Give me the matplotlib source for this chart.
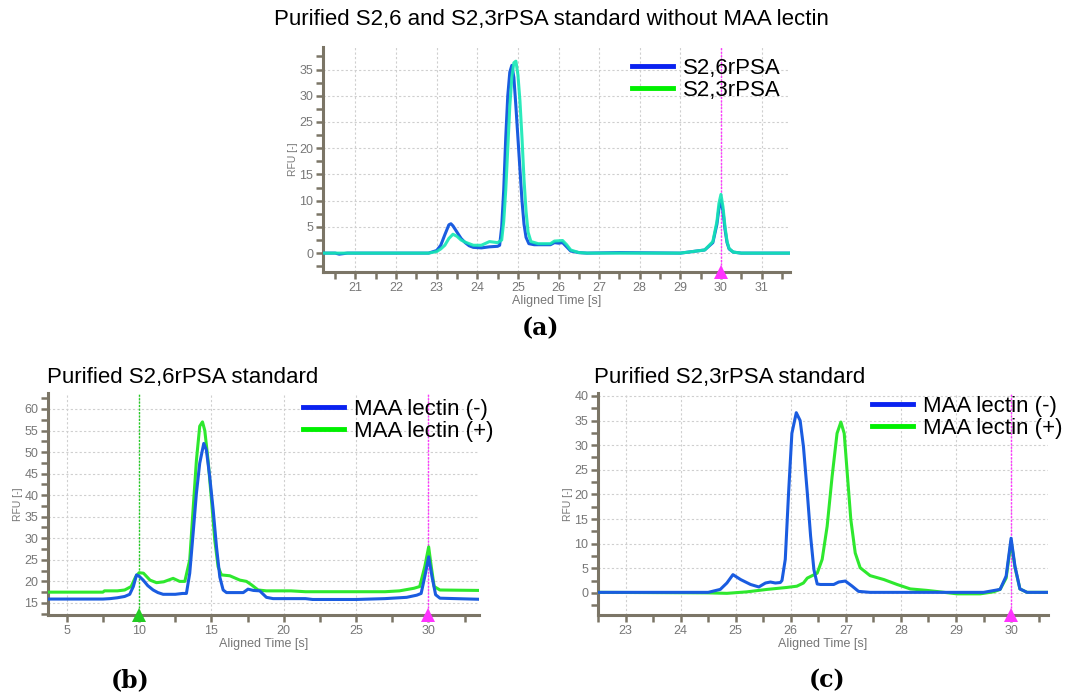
import matplotlib
matplotlib.use("Agg")
import matplotlib.pyplot as plt
from matplotlib.ticker import MultipleLocator
import matplotlib.transforms as mtransforms

# ---- panel (a): purified standards without MAA lectin ----
a_s26_x = [20.2, 20.5, 20.6, 20.8, 22.8, 23.0, 23.1, 23.2, 23.3, 23.35, 23.4, 23.5, 23.6, 23.7,
           23.8, 23.9, 24.1, 24.3, 24.5, 24.55, 24.6, 24.65, 24.7, 24.75, 24.8, 24.85, 24.9,
           24.95, 25.0, 25.05, 25.1, 25.15, 25.2, 25.27, 25.4, 25.6, 25.8, 25.9, 26.0, 26.1,
           26.2, 26.3, 26.5, 26.7, 27.5, 29.0, 29.3, 29.6, 29.8, 29.9, 29.95, 30.0, 30.05,
           30.1, 30.15, 30.2, 30.3, 30.5, 31.7]
a_s26_y = [0.0, 0.0, -0.2, 0.0, 0.0, 0.5, 1.5, 3.5, 5.4, 5.6, 5.2, 4.0, 2.8, 2.0,
           1.4, 1.1, 1.0, 1.2, 1.3, 1.5, 5.0, 12.0, 22.0, 30.0, 34.5, 35.8, 33.5,
           28.0, 22.0, 16.0, 10.0, 5.5, 3.0, 1.8, 1.6, 1.6, 1.6, 2.0, 1.9, 2.0,
           1.2, 0.4, 0.1, 0.0, 0.1, 0.0, 0.3, 0.6, 2.0, 5.5, 8.5, 10.0, 8.0,
           4.5, 2.0, 0.8, 0.2, 0.0, 0.0]
a_s23_x = [20.2, 22.8, 23.0, 23.1, 23.2, 23.3, 23.4, 23.5, 23.6, 23.7, 23.8, 23.9, 24.1, 24.3,
           24.5, 24.6, 24.65, 24.7, 24.75, 24.8, 24.85, 24.9, 24.95, 25.0, 25.05, 25.1, 25.15,
           25.2, 25.25, 25.32, 25.5, 25.8, 25.9, 26.1, 26.2, 26.3, 26.5, 26.7, 29.0, 29.3,
           29.6, 29.8, 29.9, 29.95, 30.0, 30.05, 30.1, 30.15, 30.2, 30.3, 30.5, 31.7]
a_s23_y = [0.0, 0.0, 0.3, 0.8, 1.5, 2.8, 3.6, 3.2, 2.5, 2.1, 1.8, 1.5, 1.5, 2.2,
           2.0, 2.5, 6.0, 12.0, 20.0, 28.0, 33.5, 36.3, 36.6, 34.0, 29.0, 22.0, 14.0,
           8.0, 4.0, 2.2, 1.8, 1.8, 2.3, 2.4, 1.6, 0.6, 0.1, 0.0, 0.0, 0.3,
           0.6, 2.2, 6.0, 9.5, 11.2, 8.8, 5.0, 2.2, 0.9, 0.2, 0.0, 0.0]

# ---- panel (b): purified S2,6rPSA standard ----
b_minus_x = [3.7, 7.5, 8.0, 8.5, 9.0, 9.35, 9.6, 9.82, 10.0, 10.28, 10.6, 10.97, 11.3, 11.66,
             12.5, 13.0, 13.27, 13.5, 13.73, 13.96, 14.19, 14.47, 14.65, 14.88, 15.12, 15.35,
             15.58, 15.81, 16.04, 16.5, 17.2, 17.53, 17.9, 18.34, 18.8, 19.26, 20.0, 21.5,
             22.0, 25.0, 27.0, 28.5, 29.2, 29.5, 29.8, 30.02, 30.25, 30.5, 30.8, 33.5]
b_minus_y = [15.9, 15.9, 16.0, 16.2, 16.5, 17.0, 18.8, 21.5, 21.2, 20.3, 19.0, 18.0, 17.4, 17.0,
             17.0, 17.2, 17.2, 21.9, 31.0, 40.4, 47.4, 52.0, 50.5, 44.3, 36.6, 28.0,
             21.0, 18.0, 17.4, 17.4, 17.4, 18.2, 17.9, 17.8, 16.3, 16.0, 16.0, 16.0,
             15.8, 15.8, 16.0, 16.3, 16.8, 17.2, 21.9, 25.7, 21.1, 16.9, 16.1, 15.85]
b_plus_x = [3.7, 7.5, 7.6, 8.5, 9.0, 9.45, 9.75, 10.0, 10.3, 10.75, 11.2, 11.7, 12.35, 12.8,
            13.16, 13.5, 13.73, 13.96, 14.19, 14.38, 14.54, 14.77, 15.0, 15.23, 15.46, 15.69,
            16.27, 16.96, 17.42, 17.77, 18.23, 18.8, 19.5, 20.5, 21.5, 27.0, 28.0, 29.0,
            29.4, 29.75, 30.02, 30.2, 30.4, 30.8, 33.5]
b_plus_y = [17.5, 17.5, 17.8, 17.8, 18.0, 18.8, 21.0, 22.0, 21.9, 20.3, 19.7, 19.9, 20.7, 20.0,
            20.0, 25.0, 36.6, 48.0, 56.0, 57.0, 55.0, 48.0, 39.0, 29.6, 23.4, 21.5,
            21.3, 20.3, 20.0, 19.2, 18.0, 17.8, 17.8, 17.8, 17.6, 17.6, 17.8, 18.4,
            18.8, 23.4, 28.0, 23.4, 18.8, 18.0, 17.9]

# ---- panel (c): purified S2,3rPSA standard ----
c_minus_x = [22.5, 24.5, 24.72, 24.84, 24.95, 25.09, 25.27, 25.42, 25.54, 25.63, 25.72, 25.81,
             25.84, 25.9, 25.96, 26.02, 26.1, 26.17, 26.23, 26.3, 26.36, 26.42, 26.48, 26.54,
             26.78, 26.87, 26.99, 27.11, 27.23, 27.44, 29.5, 29.8, 29.91, 30.0, 30.07, 30.16,
             30.29, 30.67]
c_minus_y = [0.1, 0.1, 0.7, 2.0, 3.7, 2.7, 1.7, 1.2, 2.0, 2.2, 2.0, 2.1,
             2.5, 6.8, 20.3, 32.4, 36.6, 35.0, 29.7, 20.3, 11.5, 4.7, 1.8, 1.7,
             1.7, 2.2, 2.4, 1.4, 0.3, 0.1, 0.1, 0.7, 3.4, 11.1, 5.4, 0.8,
             0.1, 0.1]
c_plus_x = [22.5, 24.48, 24.84, 25.2, 25.57, 25.93, 26.11, 26.23, 26.3, 26.48, 26.57, 26.66,
            26.75, 26.84, 26.91, 26.97, 27.03, 27.09, 27.17, 27.26, 27.44, 27.69, 27.93, 28.17,
            28.47, 28.71, 29.02, 29.44, 29.68, 29.8, 29.91, 30.0, 30.07, 30.16, 30.29, 30.67]
c_plus_y = [0.1, 0.0, -0.1, 0.2, 0.7, 1.1, 1.35, 2.0, 3.0, 4.0, 6.8, 13.5,
            23.6, 32.4, 34.7, 32.4, 23.6, 14.9, 8.1, 5.1, 3.5, 2.7, 1.7, 0.8,
            0.5, 0.2, -0.2, -0.2, 0.2, 0.7, 3.0, 10.5, 5.2, 0.8, 0.1, 0.1]

BLUE = "#1a5ce0"
GREEN_A = "#14e8b4"
GREEN = "#2ee82e"
LEG_BLUE = "#0a22f0"
LEG_GREEN = "#00f000"
MAGENTA = "#ff33ff"
SPINE = "#7b7566"
TICKTXT = "#777777"

W, H = 1067, 695
fig = plt.figure(figsize=(W / 100, H / 100), dpi=100)
fig.patch.set_facecolor("white")
plt.rcParams["font.family"] = ["Liberation Sans", "DejaVu Sans"]


def px_axes(left, top, right, bottom):
    return fig.add_axes([left / W, 1 - bottom / H, (right - left) / W, (bottom - top) / H])


def style(ax, xlim, ylim, xmaj, ymaj):
    ax.set_xlim(*xlim)
    ax.set_ylim(*ylim)
    ax.xaxis.set_major_locator(MultipleLocator(xmaj))
    ax.xaxis.set_minor_locator(MultipleLocator(xmaj / 2))
    ax.yaxis.set_major_locator(MultipleLocator(ymaj))
    ax.yaxis.set_minor_locator(MultipleLocator(ymaj / 2))
    for s in ["top", "right"]:
        ax.spines[s].set_visible(False)
    for s in ["left", "bottom"]:
        ax.spines[s].set_color(SPINE)
        ax.spines[s].set_linewidth(2.2)
    ax.tick_params(which="both", direction="out", color=SPINE, width=1.8, length=5,
                   labelsize=9, labelcolor=TICKTXT, pad=2)
    ax.grid(True, which="major", color="#cfcfcf", linestyle=(0, (2, 2)), linewidth=0.8)
    ax.set_axisbelow(True)
    ax.set_ylabel("RFU [-]", fontsize=7.5, color=TICKTXT, labelpad=1)
    ax.set_xlabel("Aligned Time [s]", fontsize=9, color=TICKTXT, labelpad=1)


def marker_line(ax, xpos, color):
    ax.axvline(xpos, color=color, linestyle=(0, (1.5, 1)), linewidth=1.0, zorder=1)
    trans = mtransforms.blended_transform_factory(ax.transData, ax.transAxes)
    ax.plot([xpos], [0.0], marker="^", ms=10, color=color, transform=trans,
            clip_on=False, zorder=5, markeredgewidth=0)


def legend_at(ax, labels, x, y):
    h1, = ax.plot([], [], color=LEG_BLUE, lw=3.5)
    h2, = ax.plot([], [], color=LEG_GREEN, lw=3.5)
    ax.legend([h1, h2], labels, loc="upper left", bbox_to_anchor=(x / W, 1 - y / H),
              bbox_transform=fig.transFigure, frameon=False, fontsize=16,
              handlelength=1.85, handletextpad=0.45, labelspacing=0.05,
              borderpad=0, borderaxespad=0)


# (a)
ax_a = px_axes(323, 47, 790, 272)
ax_a.plot(a_s26_x, a_s26_y, color=BLUE, lw=2.2, zorder=3)
ax_a.plot(a_s23_x, a_s23_y, color=GREEN_A, lw=2.2, zorder=3, alpha=0.9)
style(ax_a, (20.2, 31.7), (-3.6, 39.3), 1, 5)
marker_line(ax_a, 30, MAGENTA)
legend_at(ax_a, ["S2,6rPSA", "S2,3rPSA"], 632, 58)
fig.text(551 / W, 1 - 20 / H, "Purified S2,6 and S2,3rPSA standard without MAA lectin",
         ha="center", va="center", fontsize=16)
fig.text(540 / W, 1 - 328 / H, "(a)", ha="center", va="center", fontsize=17,
         fontweight="bold", family="DejaVu Serif")

# (b)
ax_b = px_axes(48, 393, 479, 615)
ax_b.plot(b_plus_x, b_plus_y, color=GREEN, lw=2.2, zorder=3)
ax_b.plot(b_minus_x, b_minus_y, color=BLUE, lw=2.2, zorder=3)
style(ax_b, (3.7, 33.5), (12.2, 63.7), 5, 5)
marker_line(ax_b, 10, "#22cc22")
marker_line(ax_b, 30, MAGENTA)
legend_at(ax_b, ["MAA lectin (-)", "MAA lectin (+)"], 303, 399)
fig.text(47 / W, 1 - 378 / H, "Purified S2,6rPSA standard", ha="left", va="center", fontsize=16)
fig.text(130 / W, 1 - 680 / H, "(b)", ha="center", va="center", fontsize=17,
         fontweight="bold", family="DejaVu Serif")

# (c)
ax_c = px_axes(598, 393, 1048, 615)
ax_c.plot(c_plus_x, c_plus_y, color=GREEN, lw=2.2, zorder=3)
ax_c.plot(c_minus_x, c_minus_y, color=BLUE, lw=2.2, zorder=3)
style(ax_c, (22.5, 30.67), (-4.5, 40.6), 1, 5)
marker_line(ax_c, 30, MAGENTA)
legend_at(ax_c, ["MAA lectin (-)", "MAA lectin (+)"], 872, 396)
fig.text(594 / W, 1 - 378 / H, "Purified S2,3rPSA standard", ha="left", va="center", fontsize=16)
fig.text(827 / W, 1 - 680 / H, "(c)", ha="center", va="center", fontsize=17,
         fontweight="bold", family="DejaVu Serif")

fig.savefig("out.png", dpi=100)
